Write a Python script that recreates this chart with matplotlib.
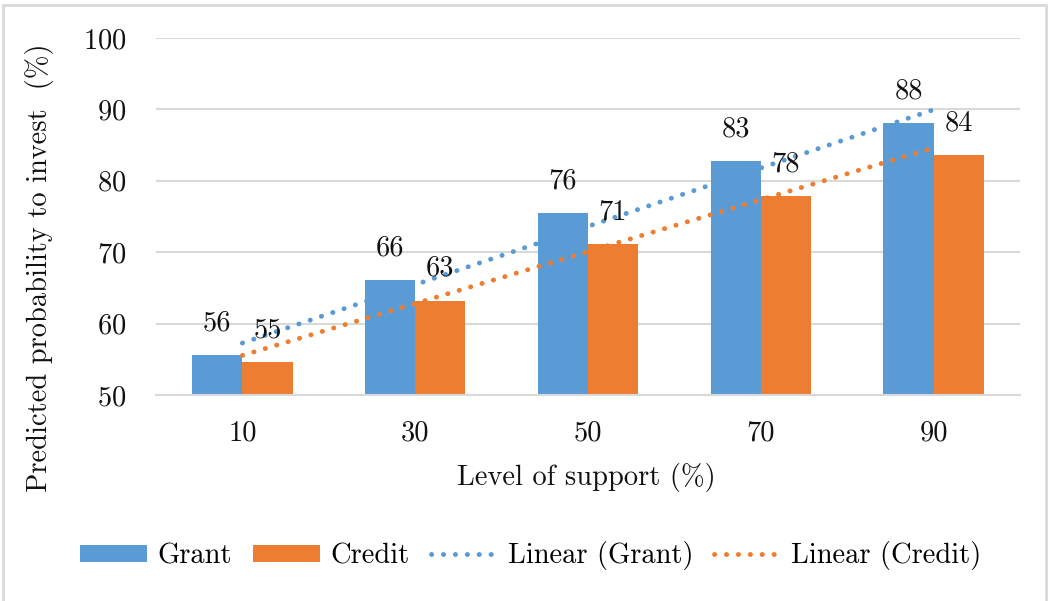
import matplotlib

matplotlib.use("Agg")
import matplotlib.pyplot as plt
import numpy as np
from matplotlib.lines import Line2D
from matplotlib.patches import Patch, Rectangle

support_levels = ["10", "30", "50", "70", "90"]
grant = [55.6, 66.1, 75.5, 82.8, 88.1]
credit = [54.6, 63.2, 71.1, 77.9, 83.6]

BLUE = "#5B9BD5"
ORANGE = "#ED7D31"
GRID = "#D9D9D9"
TEXT = "#111111"
FONT = "cmr10"
FS = 20.5
DOTS = (0, (0.05, 2.4))
DOT_LW = 3.5

plt.rcParams["font.family"] = FONT
plt.rcParams["axes.formatter.use_mathtext"] = True

fig = plt.figure(figsize=(10.5, 6.01), dpi=100)
ax = fig.add_axes([156 / 1050, 1 - 395 / 601, 864 / 1050, 357 / 601])

x = np.arange(len(support_levels))
width = 0.29

bars_g = ax.bar(x - width / 2, grant, width, color=BLUE, zorder=2)
bars_c = ax.bar(x + width / 2, credit, width, color=ORANGE, zorder=2)

# data labels above each bar
for bars, vals in ((bars_g, grant), (bars_c, credit)):
    for b, v in zip(bars, vals):
        ax.annotate(
            f"{v:.0f}",
            xy=(b.get_x() + b.get_width() / 2, v),
            xytext=(0, 23),
            textcoords="offset points",
            ha="center",
            va="center",
            fontsize=FS,
            color=TEXT,
            zorder=4,
        )

# linear trendlines through the category centres
for vals, color in ((grant, BLUE), (credit, ORANGE)):
    k, b = np.polyfit(x, vals, 1)
    ax.plot(x, k * x + b, color=color, linewidth=DOT_LW, linestyle=DOTS,
            dash_capstyle="round", zorder=3)

ax.set_xlim(-0.5, len(support_levels) - 0.5)
ax.set_ylim(50, 100)
ax.set_yticks(range(50, 101, 10))
ax.set_xticks(x)
ax.set_xticklabels(support_levels)
ax.grid(axis="y", color=GRID, linewidth=1.5, zorder=0)
ax.tick_params(length=0, labelsize=FS, colors=TEXT)
ax.tick_params(axis="y", pad=21)
ax.tick_params(axis="x", pad=18)
for side in ("top", "right", "left"):
    ax.spines[side].set_visible(False)
ax.spines["bottom"].set_color(GRID)
ax.spines["bottom"].set_linewidth(1.5)

fig.text(40 / 1050, 1 - 268 / 601, "Predicted probability to invest  (%)",
         rotation=90, ha="center", va="center", fontsize=FS, color=TEXT)
fig.text(586 / 1050, 1 - 478 / 601, "Level of support (%)",
         ha="center", va="center", fontsize=FS, color=TEXT)

handles = [
    Patch(facecolor=BLUE),
    Patch(facecolor=ORANGE),
    Line2D([], [], color=BLUE, linewidth=DOT_LW, linestyle=DOTS,
           dash_capstyle="round"),
    Line2D([], [], color=ORANGE, linewidth=DOT_LW, linestyle=DOTS,
           dash_capstyle="round"),
]
labels = ["Grant", "Credit", "Linear (Grant)", "Linear (Credit)"]
fig.legend(
    handles,
    labels,
    loc="center",
    bbox_to_anchor=(531 / 1050, 1 - 556 / 601),
    ncol=4,
    frameon=False,
    fontsize=FS,
    handlelength=2.35,
    handleheight=0.56,
    handletextpad=0.35,
    columnspacing=0.75,
)

# light chart-area border
fig.patches.append(Rectangle((3 / 1050, -0.01), 1043 / 1050, 1 - 5 / 601 + 0.01,
                             transform=fig.transFigure, fill=False,
                             edgecolor=GRID, linewidth=2))

fig.savefig("out.png", dpi=100)
